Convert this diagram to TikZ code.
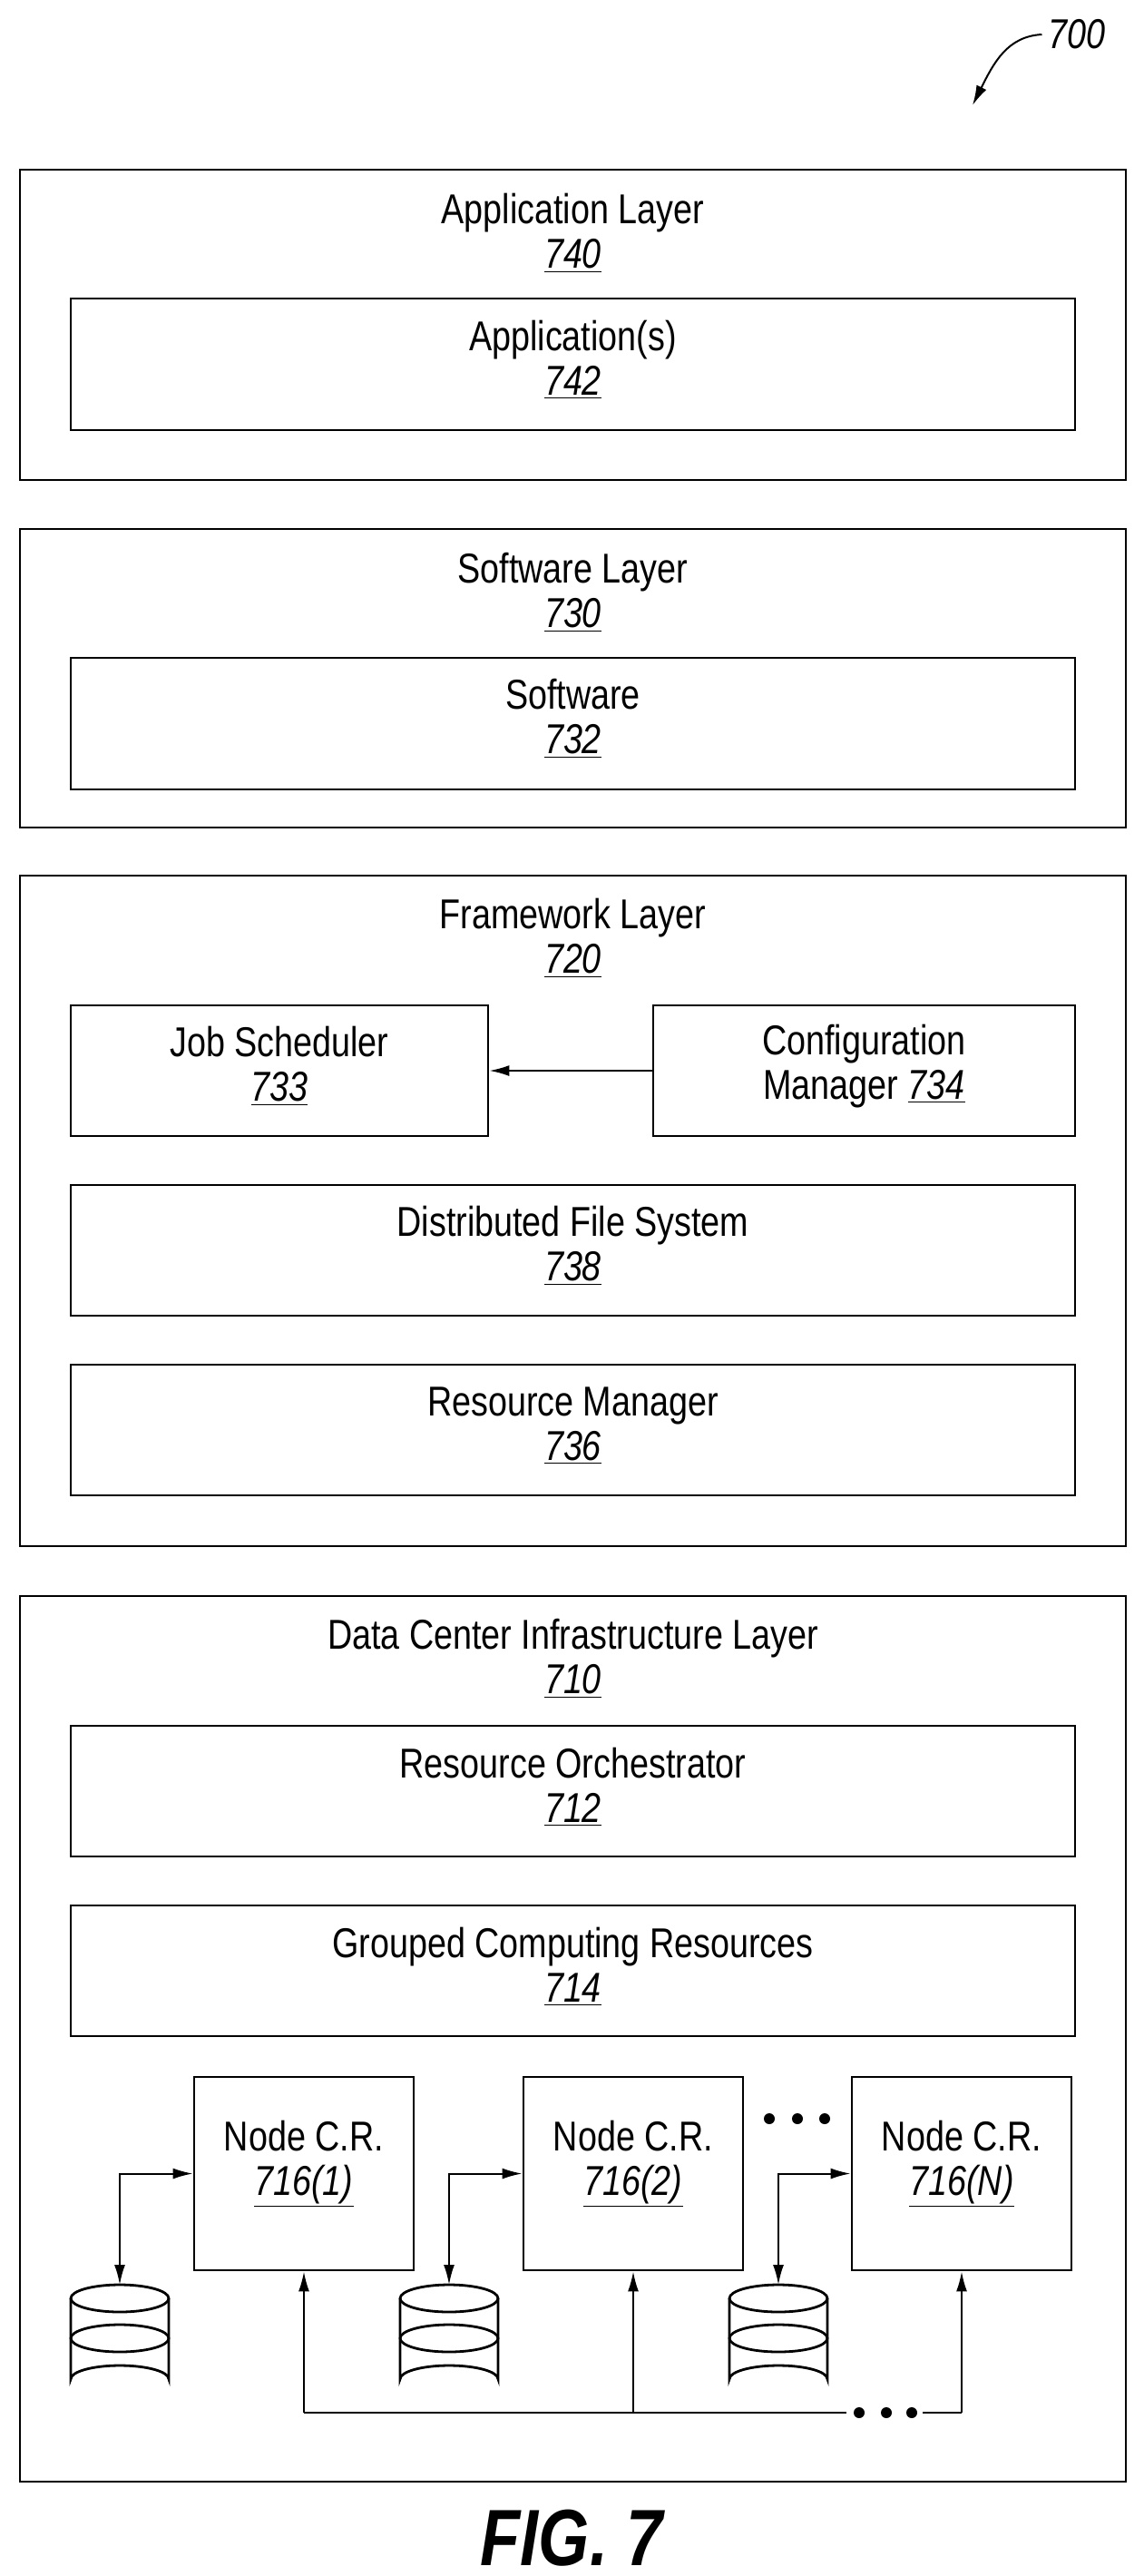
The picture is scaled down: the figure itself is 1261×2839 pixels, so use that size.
\documentclass[tikz,border=0pt]{standalone}
\usepackage{fontspec}
\setmainfont{Liberation Sans}[FakeStretch=0.82]
\usetikzlibrary{arrows.meta}
\tikzset{
    box/.style={draw, line width=1.4pt, inner sep=0pt},
    txt/.style={align=center, font=\fontsize{23}{24.5}\selectfont},
    conn/.style={line width=1pt},
    tip/.style={-{Latex[length=11pt,width=6pt]}},
}
\newcommand{\refn}[1]{\underline{\textit{#1}}}
\begin{document}
\begin{tikzpicture}[x=0.5pt, y=-0.5pt]
    \useasboundingbox (0,0) rectangle (1261,2839);

    % reference numeral
    \node[txt, font=\fontsize{23}{24.5}\selectfont\itshape] (fig) at (1187,38) {700};
    \coordinate (figend) at (1072,116);
    \draw[conn, tip] (fig.west) .. controls (1110,40) and (1095,70) .. (figend);

    % application layer
    \node[box, minimum width=609.5pt, minimum height=171pt] (app) at (631.5,358) {};
    \node[txt] (apptitle) at (631.5,257) {Application Layer\\ \refn{740}};
    \node[box, minimum width=553.5pt, minimum height=72.5pt] (apps) at (631.5,401.5) {};
    \node[txt] (appstxt) at (631.5,396) {Application(s)\\ \refn{742}};

    % software layer
    \node[box, minimum width=609.5pt, minimum height=164.5pt] (sw) at (631.5,747.5) {};
    \node[txt] (swtitle) at (631.5,653) {Software Layer\\ \refn{730}};
    \node[box, minimum width=553.5pt, minimum height=72.5pt] (soft) at (631.5,797.5) {};
    \node[txt] (softtxt) at (631.5,792) {Software\\ \refn{732}};

    % framework layer
    \node[box, minimum width=609.5pt, minimum height=369.5pt] (fw) at (631.5,1334.5) {};
    \node[txt] (fwtitle) at (631.5,1034) {Framework Layer\\ \refn{720}};
    \node[box, minimum width=230pt, minimum height=72pt] (job) at (308,1180) {};
    \node[txt] (jobtxt) at (308,1175) {Job Scheduler\\ \refn{733}};
    \node[box, minimum width=232.5pt, minimum height=72pt] (cfg) at (952.5,1180) {};
    \node[txt] (cfgtxt) at (952.5,1175) {Configuration\\ Manager \refn{734}};
    \draw[conn, tip] (cfg) -- (job);
    \node[box, minimum width=553.5pt, minimum height=72pt] (dfs) at (631.5,1378) {};
    \node[txt] (dfstxt) at (631.5,1373) {Distributed File System\\ \refn{738}};
    \node[box, minimum width=553.5pt, minimum height=72pt] (rm) at (631.5,1576) {};
    \node[txt] (rmtxt) at (631.5,1571) {Resource Manager\\ \refn{736}};

    % data center infrastructure layer
    \node[box, minimum width=609.5pt, minimum height=488pt] (dc) at (631.5,2247) {};
    \node[txt] (dctitle) at (631.5,1828) {Data Center Infrastructure Layer\\ \refn{710}};
    \node[box, minimum width=553.5pt, minimum height=72pt] (ro) at (631.5,1974) {};
    \node[txt] (rotxt) at (631.5,1969) {Resource Orchestrator\\ \refn{712}};
    \node[box, minimum width=553.5pt, minimum height=72pt] (gcr) at (631.5,2172) {};
    \node[txt] (gcrtxt) at (631.5,2167) {Grouped Computing Resources\\ \refn{714}};

    % node computing resources
    \foreach \i/\x/\lab in {1/335/1, 2/698/2, 3/1060/N} {
        \node[box, minimum width=121pt, minimum height=106.5pt] (n\i) at (\x,2395.5) {};
        \node[txt] (n\i txt) at (\x,2385) {Node C.R.\\ \refn{716(\lab)}};
    }
    \foreach \x in {848,879,909} \fill (\x,2335) circle (6);

    % storage
    \foreach \i/\x in {1/132, 2/495, 3/858} {
        \coordinate (s\i) at (\x,2518);
        \draw[line width=1.4pt] (\x,2533) ellipse (54 and 15);
        \draw[line width=1.4pt] (\x,2577) ellipse (54 and 15);
        \draw[line width=1.4pt] (\x-54,2533) -- (\x-54,2622) arc[start angle=180, end angle=360, x radius=54, y radius=15] -- (\x+54,2533);
        \draw[conn, {Latex[length=11pt,width=6pt]}-{Latex[length=11pt,width=6pt]}] (s\i) |- (n\i.west);
    }

    % bus
    \coordinate (b1) at (n1.south |- 0,2659);
    \coordinate (b2) at (n2.south |- 0,2659);
    \coordinate (b3) at (n3.south |- 0,2659);
    \coordinate (bgap) at (933,2659);
    \coordinate (bgap2) at (1017,2659);
    \draw[conn] (b1) -- (bgap);
    \draw[conn] (bgap2) -- (b3);
    \foreach \x in {947,977,1005} \fill (\x,2659) circle (6);
    \foreach \i in {1,2,3} \draw[conn, tip] (b\i) -- (n\i.south);

    \node[font=\fontsize{44}{48}\selectfont\bfseries\itshape] (caption) at (630,2797) {FIG. 7};
\end{tikzpicture}
\end{document}
